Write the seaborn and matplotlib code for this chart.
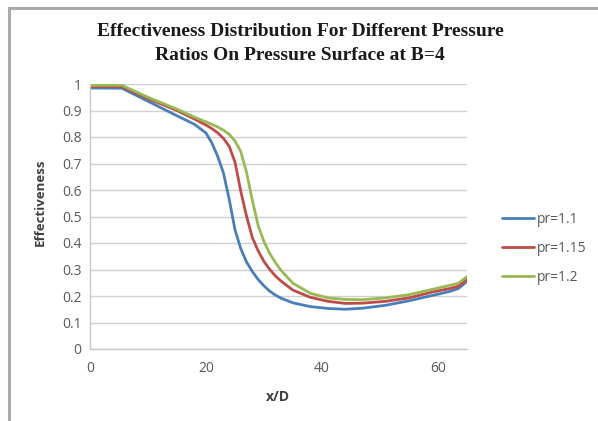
import numpy as np
import pandas as pd
import matplotlib
matplotlib.use("Agg")
import matplotlib.pyplot as plt
from matplotlib.patches import Rectangle
import seaborn as sns

# ---- data ----
x_d = [0, 5.5, 10, 15, 18, 20, 21, 22, 23, 24, 25, 26, 27, 28, 29, 30, 31, 32,
       33, 35, 38, 41, 44, 47, 51, 55, 59, 62, 63.5, 65]
pr_1_1 = [0.985, 0.984, 0.935, 0.880, 0.848, 0.815, 0.778, 0.728, 0.665, 0.565,
          0.450, 0.378, 0.328, 0.292, 0.262, 0.238, 0.218, 0.203, 0.191, 0.174,
          0.160, 0.153, 0.150, 0.154, 0.165, 0.182, 0.202, 0.217, 0.228, 0.255]
pr_1_15 = [0.990, 0.990, 0.945, 0.900, 0.868, 0.845, 0.832, 0.816, 0.795, 0.765,
           0.705, 0.595, 0.500, 0.420, 0.370, 0.330, 0.300, 0.275, 0.255, 0.222,
           0.195, 0.180, 0.172, 0.173, 0.180, 0.193, 0.215, 0.228, 0.237, 0.262]
pr_1_2 = [0.995, 0.995, 0.950, 0.905, 0.875, 0.857, 0.848, 0.838, 0.826, 0.810,
          0.785, 0.745, 0.665, 0.560, 0.465, 0.405, 0.360, 0.325, 0.295, 0.248,
          0.210, 0.193, 0.187, 0.186, 0.193, 0.205, 0.225, 0.240, 0.248, 0.273]
series_names = ["pr=1.1", "pr=1.15", "pr=1.2"]
y_ticks = [0, 0.1, 0.2, 0.3, 0.4, 0.5, 0.6, 0.7, 0.8, 0.9, 1]
y_tick_labels = ["0", "0.1", "0.2", "0.3", "0.4", "0.5", "0.6", "0.7", "0.8", "0.9", "1"]
x_ticks = [0, 20, 40, 60]

df = pd.concat([
    pd.DataFrame({"x/D": x_d, "Effectiveness": vals, "series": name})
    for name, vals in zip(series_names, [pr_1_1, pr_1_15, pr_1_2])
], ignore_index=True)

sns.set_theme(style="white")
plt.rcParams["font.family"] = ["Open Sans", "DejaVu Sans"]

W, H = 598, 421
fig = plt.figure(figsize=(W / 100, H / 100), dpi=100)
fig.patch.set_facecolor("white")

# outer chart frame (Excel-style), extends past right and bottom edges
top = 1 - 7.5 / H
fig.add_artist(Rectangle((9 / W, -0.2), 1.5, top + 0.2,
                         transform=fig.transFigure, fill=False,
                         edgecolor="#ABABAB", linewidth=2.2, zorder=0))

ax = fig.add_axes([90 / W, 1 - 349 / H, 377 / W, 265 / H])
palette = {"pr=1.1": "#4A7EBB", "pr=1.15": "#BE4B48", "pr=1.2": "#98B954"}
sns.lineplot(data=df, x="x/D", y="Effectiveness", hue="series",
             palette=palette, linewidth=2.0, ax=ax, legend=False,
             estimator=None, sort=False)
for ln in ax.get_lines():
    ln.set_solid_joinstyle("round")
    ln.set_solid_capstyle("round")

ax.set_xlim(0, 65)
ax.set_ylim(0, 1)
ax.set_yticks(y_ticks)
ax.set_yticklabels(y_tick_labels)
ax.set_xticks(x_ticks)
ax.set_xticklabels([str(t) for t in x_ticks])
ax.yaxis.grid(True, color="#D0D0D0", linewidth=1.0)
ax.xaxis.grid(False)
ax.set_axisbelow(True)
for s in ["top", "right"]:
    ax.spines[s].set_visible(False)
for s in ["left", "bottom"]:
    ax.spines[s].set_color("#C8C8C8")
    ax.spines[s].set_linewidth(1.0)
ax.tick_params(axis="both", length=0, labelsize=10, colors="#595959")
ax.tick_params(axis="y", pad=6)
ax.tick_params(axis="x", pad=9)
ax.set_xlabel("")
ax.set_ylabel("")

fig.text(278 / W, 1 - 397 / H, "x/D", ha="center", va="center",
         fontsize=10, fontweight="bold", color="#404040")
fig.text(40 / W, 1 - 202 / H, "Effectiveness", ha="center", va="center",
         rotation=90, fontsize=9.5, fontweight="bold", color="#404040")

serif = ["Liberation Serif", "DejaVu Serif"]
fig.text(300 / W, 1 - 32 / H, "Effectiveness Distribution For Different Pressure",
         ha="center", va="center", fontsize=14, fontweight="bold",
         family=serif, color="#1a1a1a")
fig.text(300 / W, 1 - 55 / H, "Ratios On Pressure Surface at B=4",
         ha="center", va="center", fontsize=14, fontweight="bold",
         family=serif, color="#1a1a1a")

handles = ax.get_lines()[:3]
leg = fig.legend(handles, series_names, loc="upper left",
                 bbox_to_anchor=(495 / W, 1 - 205 / H),
                 frameon=False, fontsize=10, handlelength=2.3,
                 handletextpad=0.25, labelspacing=1.0, borderpad=0)
for t in leg.get_texts():
    t.set_color("#595959")

fig.savefig("out.png", dpi=100, facecolor="white")
